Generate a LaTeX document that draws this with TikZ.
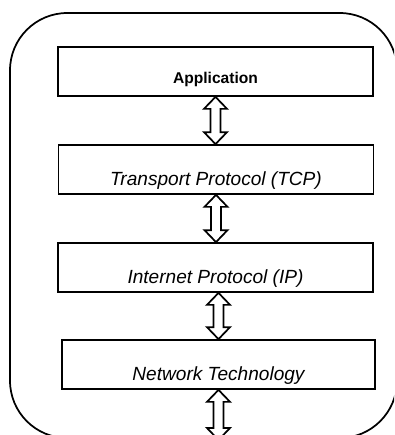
\documentclass[tikz,border=0pt]{standalone}
\usepackage{fontspec}
\setmainfont{Liberation Sans}
\usetikzlibrary{calc}

\tikzset{
  layer/.style={draw, line width=1.3pt, inner sep=0pt, minimum width=236.25pt,
    text height=30pt, text depth=6.75pt, font=\fontsize{14.3}{17}\selectfont\itshape},
  toplayer/.style={layer, text height=27.25pt, text depth=9.5pt,
    font=\fontsize{11.7}{14}\selectfont\bfseries},
  updown/.style={line width=1.3pt, line join=miter, to path={
    (\tikztostart) -- ++(11.5,12) -- ++(-6.5,0) -- ($(\tikztotarget)+(5,-12)$) -- ++(6.5,0)
    -- (\tikztotarget) -- ++(-11.5,-12) -- ++(6.5,0) -- ($(\tikztostart)+(-5,12)$) -- ++(-6.5,0) -- cycle}}
}

\begin{document}
\begin{tikzpicture}[x=0.75pt,y=0.75pt,yscale=-1,xscale=1]
\useasboundingbox (0,0) rectangle (394,435);
\clip (0,0) rectangle (394,435);

%Rounded Rect: host frame
\draw [line width=1.3pt, rounded corners=43pt] (10,13) rectangle (397,438);

% Layer Nodes
\node [toplayer] (app) at (215.5,71.5) {Application};
\node [layer] (tcp) at (216,169.5) {Transport Protocol (TCP)};
\node [layer] (ip) at (215.5,267.5) {Internet Protocol (IP)};
\node [layer, minimum width=234.75pt] (net) at (218.5,364.5) {Network Technology};
\coordinate (wire) at (218.5,440);

% Double Arrows
\draw [updown] (app.south) to (app.south |- tcp.north);
\draw [updown] (tcp.south) to (tcp.south |- ip.north);
\draw [updown] (ip.south -| net.north) to (net.north);
\draw [updown] (net.south) to (wire);

\end{tikzpicture}
\end{document}
